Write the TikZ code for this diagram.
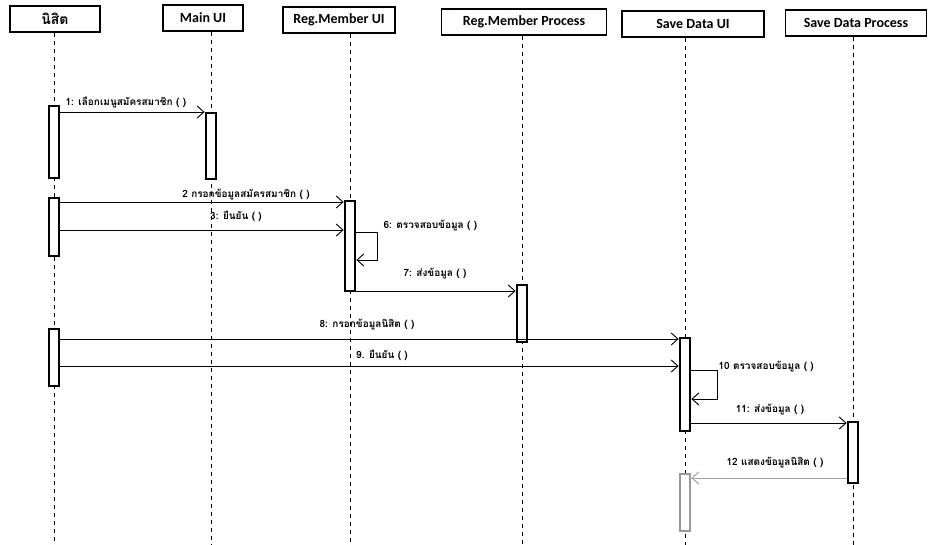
\documentclass[tikz,border=0pt]{standalone}
\usepackage{fontspec}
\setmainfont{Carlito}
\newfontfamily\thaifont[Script=Thai]{Loma}
\usetikzlibrary{arrows.meta, positioning, calc}

\begin{document}
\begin{tikzpicture}[
			x=0.75pt, y=-0.75pt,
			every node/.style={font=\small},
			%% Node styles
			head/.style={rectangle, draw=black, line width=1.2pt, fill=white,
				minimum height=26pt*0.75, inner sep=2pt, align=center,
				font=\fontsize{10.5}{12}\selectfont\bfseries},
			actbar/.style={rectangle, draw=black, line width=1.6pt, fill=white,
				minimum width=8pt, inner sep=0pt, anchor=north},
			ghostbar/.style={actbar, draw=gray!80},
			%% Line styles
			life/.style={densely dashed, thin, dash pattern=on 3pt off 3pt},
			msg/.style={-{Straight Barb[length=5pt,width=9pt]}, line width=0.7pt},
			retmsg/.style={msg, draw=gray!75},
			%% Label style
			lbl/.style={font=\thaifont\fontsize{7.5}{9}\selectfont\bfseries,
				inner sep=1pt},
			]
			\useasboundingbox (0,0) rectangle (928,545);
			
			%% ── Heads ────────────────────────────────────────────────────────
			\node[head, minimum width=90pt*0.75]  (student)  at (55,19)
			{\thaifont นิสิต};
			\node[head, minimum width=80pt*0.75]  (mainui)   at (203,18)
			{Main UI};
			\node[head, minimum width=112pt*0.75] (regui)    at (339,20)
			{Reg.Member UI};
			\node[head, minimum width=165pt*0.75] (regproc)  at (524,22)
			{Reg.Member Process};
			\node[head, minimum width=142pt*0.75] (saveui)   at (693,24)
			{Save Data UI};
			\node[head, minimum width=141pt*0.75] (saveproc) at (856,23)
			{Save Data Process};
			
			%% Lifeline positions
			\coordinate (lA) at (54,545);
			\coordinate (lB) at (211,545);
			\coordinate (lC) at (350,545);
			\coordinate (lD) at (522,545);
			\coordinate (lE) at (685,545);
			\coordinate (lF) at (853,545);
			
			%% ── Lifelines ────────────────────────────────────────────────────
			\draw[life] (student.south -| lA)  -- (lA);
			\draw[life] (mainui.south -| lB)   -- (lB);
			\draw[life] (regui.south -| lC)    -- (lC);
			\draw[life] (regproc.south -| lD)  -- (lD);
			\draw[life] (saveui.south -| lE)   -- (lE);
			\draw[life] (saveproc.south -| lF) -- (lF);
			
			%% ── Activation bars ──────────────────────────────────────────────
			\node[actbar, minimum height=72pt*0.75] (a1) at (lA |- 0,105) {};
			\node[actbar, minimum height=66pt*0.75] (b1) at (lB |- 0,112) {};
			\node[actbar, minimum height=58pt*0.75] (a2) at (lA |- 0,197) {};
			\node[actbar, minimum height=90pt*0.75] (c1) at (lC |- 0,200) {};
			\node[actbar, minimum height=57pt*0.75] (d1) at (lD |- 0,284) {};
			\node[actbar, minimum height=57pt*0.75] (a3) at (lA |- 0,328) {};
			\node[actbar, minimum height=93pt*0.75] (e1) at (lE |- 0,337) {};
			\node[actbar, minimum height=61pt*0.75] (f1) at (lF |- 0,421) {};
			\node[ghostbar, minimum height=57pt*0.75] (e2) at (lE |- 0,473) {};
			
			%% ── Messages ─────────────────────────────────────────────────────
			\draw[msg] (a1.east |- 0,112) -- (b1.west |- 0,112);
			\node[lbl, anchor=south west] (m1) at (64,110)
			{1: เลือกเมนูสมัครสมาชิก ( )};
			
			\draw[msg] (a2.east |- 0,202) -- (c1.west |- 0,202);
			\node[lbl] (m2) at (246,195) {2 กรอกข้อมูลสมัครสมาชิก ( )};
			
			\draw[msg] (a2.east |- 0,230) -- (c1.west |- 0,230);
			\node[lbl] (m3) at (236,216) {3: ยืนยัน ( )};
			
			%% self call on Reg.Member UI
			\draw[msg] (c1.east |- 0,232) -- ++(21,0) |- (c1.east |- 0,260);
			\node[lbl, anchor=west] (m6) at (382,226) {6: ตรวจสอบข้อมูล ( )};
			
			\draw[msg] (c1.east |- 0,291) -- (d1.west |- 0,291);
			\node[lbl] (m7) at (435,274) {7: ส่งข้อมูล ( )};
			
			\draw[msg] (a3.east |- 0,339) -- (e1.west |- 0,339);
			\node[lbl] (m8) at (367,325) {8: กรอกข้อมูลนิสิต ( )};
			
			\draw[msg] (a3.east |- 0,366) -- (e1.west |- 0,366);
			\node[lbl] (m9) at (382,355) {9. ยืนยัน ( )};
			
			%% self call on Save Data UI
			\draw[msg] (e1.east |- 0,370) -- ++(26,0) |- (e1.east |- 0,399);
			\node[lbl, anchor=west] (m10) at (717,367) {10 ตรวจสอบข้อมูล ( )};
			
			\draw[msg] (e1.east |- 0,423) -- (f1.west |- 0,423);
			\node[lbl] (m11) at (770,410) {11: ส่งข้อมูล ( )};
			
			%% reply back to Save Data UI
			\draw[retmsg] (f1.west |- 0,478) -- (e2.east |- 0,478);
			\node[lbl] (m12) at (775,463) {12 แสดงข้อมูลนิสิต ( )};
			
		\end{tikzpicture}
\end{document}
